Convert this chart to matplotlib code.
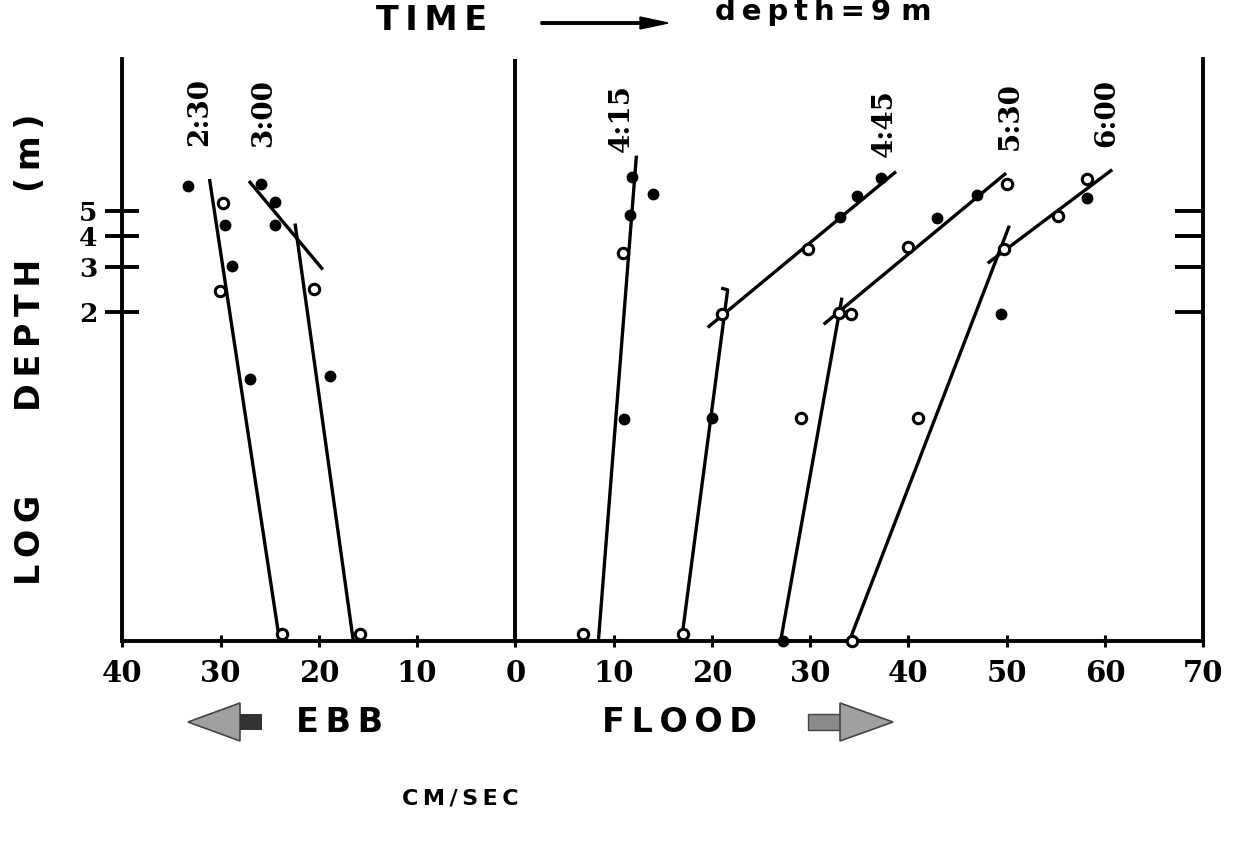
import numpy as np
import matplotlib.pyplot as plt
from matplotlib.patches import Polygon, Rectangle, FancyArrow
from matplotlib.ticker import NullLocator

plt.rcParams['font.family'] = 'DejaVu Serif'
plt.rcParams['font.weight'] = 'bold'

# speed in cm/s (ebb negative), depth above bottom in m
speed_ticks = [-40, -30, -20, -10, 0, 10, 20, 30, 40, 50, 60, 70]
depth_ticks = [2, 3, 4, 5]

# 2:30 (ebb)
t230_speed = [-33.3, -29.8, -29.5, -28.8, -30.1, -27.0, -23.7]
t230_depth = [6.31, 5.37, 4.42, 3.03, 2.42, 1.08, 0.106]
t230_open = [0, 1, 0, 0, 1, 0, 1]
t230_fit = [([-31.1, -24.0], [6.6, 0.1])]

# 3:00 (ebb)
t300_speed = [-25.9, -24.5, -24.5, -20.5, -18.9, -15.8]
t300_depth = [6.40, 5.45, 4.42, 2.45, 1.11, 0.106]
t300_open = [0, 0, 0, 1, 0, 1]
t300_fit = [([-27.0, -19.7], [6.5, 2.97]), ([-22.4, -16.5], [4.40, 0.1])]

# 4:15 (flood)
t415_speed = [11.9, 14.0, 11.7, 11.0, 11.1, 6.9]
t415_depth = [6.84, 5.85, 4.83, 3.43, 0.75, 0.106]
t415_open = [0, 0, 0, 1, 0, 1]
t415_fit = [([12.3, 8.45], [8.17, 0.1])]

# 4:45 (flood)
t445_speed = [37.2, 34.8, 33.0, 29.8, 21.0, 20.0, 17.1]
t445_depth = [6.75, 5.74, 4.75, 3.55, 1.96, 0.76, 0.106]
t445_open = [0, 0, 0, 1, 1, 0, 1]
t445_fit = [([19.7, 38.6], [1.75, 7.1]), ([16.9, 21.6, 21.1], [0.1, 2.44, 2.47])]

# 5:30 (flood)
t530_speed = [50.0, 47.0, 42.9, 40.0, 32.9, 34.2, 29.1, 27.2]
t530_depth = [6.38, 5.79, 4.71, 3.61, 1.97, 1.95, 0.76, 0.1]
t530_open = [1, 0, 0, 1, 1, 1, 1, 0]
t530_fit = [([31.5, 49.8], [1.80, 7.0]), ([27.0, 33.2], [0.1, 2.24])]

# 6:00 (flood)
t600_speed = [58.2, 58.2, 55.2, 49.7, 49.4, 41.0, 34.3]
t600_depth = [6.69, 5.62, 4.80, 3.53, 1.96, 0.757, 0.1]
t600_open = [1, 0, 1, 1, 0, 1, 1]
t600_fit = [([48.2, 60.6], [3.14, 7.23]), ([34.0, 50.2], [0.1, 4.32])]

time_labels = ['2:30', '3:00', '4:15', '4:45', '5:30', '6:00']
label_speed = [-32.1, -25.6, 10.8, 37.5, 50.4, 60.2]
label_depth = [12.3, 12.2, 11.7, 11.2, 11.9, 12.2]

W, H = 1241, 843


def fx(px):
    return px / W


def fy(py):
    return 1 - py / H


fig = plt.figure(figsize=(W / 100, H / 100), dpi=100)
ax = fig.add_axes([fx(122.3), fy(640.5), fx(1203.3) - fx(122.3), fy(59) - fy(640.5)])
ax.set_xlim(-40, 70)
ax.set_yscale('log')
ax.set_ylim(0.1, 20)
ax.spines['top'].set_visible(False)
for s in ['left', 'right', 'bottom']:
    ax.spines[s].set_linewidth(2.8)
ax.axvline(0, color='k', lw=2.8)

ax.set_xticks(speed_ticks)
ax.set_xticklabels([str(abs(t)) for t in speed_ticks])
ax.tick_params(axis='x', direction='inout', length=9, width=2.2, pad=9, labelsize=21)
ax.set_yticks(depth_ticks)
ax.set_yticklabels([str(d) for d in depth_ticks])
ax.yaxis.set_minor_locator(NullLocator())
ax.tick_params(axis='y', direction='inout', length=24, width=2.8, pad=6, labelsize=19)

# short inward ticks on the right-hand axis
rax = ax.twinx()
rax.set_yscale('log')
rax.set_ylim(ax.get_ylim())
rax.set_yticks(depth_ticks)
rax.yaxis.set_minor_locator(NullLocator())
rax.tick_params(axis='y', direction='in', length=20, width=2.8, labelright=False)
for s in rax.spines.values():
    s.set_visible(False)

series = [
    (t230_speed, t230_depth, t230_open, t230_fit),
    (t300_speed, t300_depth, t300_open, t300_fit),
    (t415_speed, t415_depth, t415_open, t415_fit),
    (t445_speed, t445_depth, t445_open, t445_fit),
    (t530_speed, t530_depth, t530_open, t530_fit),
    (t600_speed, t600_depth, t600_open, t600_fit),
]
for spd, dep, opn, fits in series:
    for xs, ys in fits:
        ax.plot(xs, ys, color='k', lw=2.4, clip_on=False, zorder=3)
    spd, dep, opn = np.array(spd), np.array(dep), np.array(opn, dtype=bool)
    ax.plot(spd[~opn], dep[~opn], 'o', color='k', ms=7.5, clip_on=False, zorder=4)
    ax.plot(spd[opn], dep[opn], 'o', mfc='white', mec='k', mew=2.2, ms=7.5,
            clip_on=False, zorder=4)

for lab, x, y in zip(time_labels, label_speed, label_depth):
    ax.text(x, y, lab, rotation=90, ha='center', va='center', fontsize=20)

sans = dict(family='DejaVu Sans', weight='bold', color='k')
th = '\u2009'
fig.text(fx(432), fy(21), th.join('TIME'), ha='center', va='center', fontsize=24, **sans)
fig.add_artist(FancyArrow(fx(541), fy(23), fx(668) - fx(541), 0, width=2.5 / H,
                          head_width=12 / H, head_length=28 / W, length_includes_head=True,
                          transform=fig.transFigure, color='k'))
fig.text(fx(823), fy(20), th.join('depth=9') + ' m', ha='center', va='baseline',
         fontsize=21, **sans)

for lab, px in [('LOG', 540), ('DEPTH', 335), ('(m)', 153)]:
    fig.text(fx(30), fy(px), th.join(lab), rotation=90, ha='center', va='center',
             fontsize=24, **sans)

fig.text(fx(340), fy(722), th.join('EBB'), ha='center', va='center', fontsize=24, **sans)
fig.text(fx(680), fy(722), th.join('FLOOD'), ha='center', va='center', fontsize=24, **sans)
fig.text(fx(460), fy(798), th.join('CM/SEC'), ha='center', va='center', fontsize=16, **sans)

# grey direction arrows under the axis
ebb_head = Polygon([(fx(188), fy(722)), (fx(240), fy(703)), (fx(240), fy(741))],
                   closed=True, fc='#a0a0a0', ec='#444444', lw=1.2, transform=fig.transFigure)
ebb_tail = Rectangle((fx(240), fy(730)), fx(262) - fx(240), fy(714) - fy(730),
                     fc='#333333', ec='none', transform=fig.transFigure)
fld_tail = Rectangle((fx(808), fy(730)), fx(840) - fx(808), fy(714) - fy(730),
                     fc='#8a8a8a', ec='#444444', lw=1, transform=fig.transFigure)
fld_head = Polygon([(fx(840), fy(703)), (fx(840), fy(741)), (fx(893), fy(722))],
                   closed=True, fc='#a0a0a0', ec='#444444', lw=1.2, transform=fig.transFigure)
for p in [ebb_head, ebb_tail, fld_tail, fld_head]:
    fig.add_artist(p)

fig.savefig('out.png', dpi=100)
